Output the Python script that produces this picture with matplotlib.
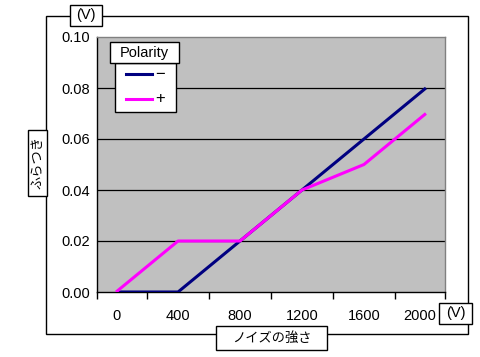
import matplotlib
matplotlib.use('Agg')
import matplotlib.pyplot as plt
from matplotlib.patches import Rectangle
from matplotlib.lines import Line2D
from matplotlib.transforms import ScaledTranslation

plt.rcParams['font.family'] = ['Liberation Sans', 'Noto Sans CJK JP', 'DejaVu Sans']

noise = [0, 400, 800, 1200, 1600, 2000]
minus_vals = [0.0, 0.0, 0.02, 0.04, 0.06, 0.08]
plus_vals = [0.0, 0.02, 0.02, 0.04, 0.05, 0.07]
y_ticks = [0.00, 0.02, 0.04, 0.06, 0.08, 0.10]
x_marks = [-123, 200, 600, 1000, 1400, 1800, 2123]

W, H = 480, 357
fs = 10.5
fig = plt.figure(figsize=(4.8, 3.57), dpi=100)

def box(x0, y0, x1, y1, lw=1.0):
    # pixel coords from top-left
    r = Rectangle((x0 / W, 1 - y1 / H), (x1 - x0) / W, (y1 - y0) / H,
                  transform=fig.transFigure, facecolor='white', edgecolor='black',
                  linewidth=lw, zorder=5)
    fig.add_artist(r)

# chart area frame
fr = Rectangle((46 / W, 1 - 334 / H), (468 - 46) / W, (334 - 16) / H,
               transform=fig.transFigure, facecolor='none', edgecolor='black', linewidth=1.0)
fig.add_artist(fr)

ax = fig.add_axes([97 / W, 1 - 292 / H, (445 - 97) / W, (292 - 37) / H])
ax.set_facecolor('#C0C0C0')
for y in y_ticks[1:-1]:
    ax.axhline(y, color='black', linewidth=0.9, zorder=1)
ax.plot(noise, minus_vals, color='#000080', linewidth=2.2, zorder=3, solid_capstyle='butt')
ax.plot(noise, plus_vals, color='#FF00FF', linewidth=2.2, zorder=3, solid_capstyle='butt')
ax.set_xlim(-123, 2123)
ax.set_ylim(0, 0.10)
ax.set_yticks(y_ticks)
ax.set_yticklabels(['%.2f' % v for v in y_ticks])
ax.set_xticks(noise)
ax.set_xticklabels([str(v) for v in noise])
ax.set_xticks(x_marks, minor=True)
ax.tick_params(axis='y', length=0, pad=5, labelsize=fs)
ax.tick_params(axis='x', which='major', length=0, pad=12, labelsize=fs)
ax.tick_params(axis='x', which='minor', length=5, width=1, color='black')
ax.spines['top'].set_color('#808080')
ax.spines['right'].set_color('#808080')
ax.spines['left'].set_color('black')
ax.spines['bottom'].set_color('black')
for s in ax.spines.values():
    s.set_linewidth(1.0)

# last label sits a bit left so it clears the (V) box
lab = ax.get_xticklabels()[-1]
lab.set_transform(lab.get_transform() + ScaledTranslation(-6 / 100, 0, fig.dpi_scale_trans))

# unit boxes
box(70, 5, 102, 26)
fig.text(86 / W, 1 - 15.5 / H, '(V)', ha='center', va='center', fontsize=fs, zorder=6)
box(439, 303, 472, 324)
fig.text(455.5 / W, 1 - 313.5 / H, '(V)', ha='center', va='center', fontsize=fs, zorder=6)

# axis title boxes
box(28, 130, 47, 196)
fig.text(37.5 / W, 1 - 163 / H, 'ふらつき', ha='center', va='center', rotation=90,
         fontsize=9.5, family=['Noto Sans CJK JP'], zorder=6)
box(216, 326, 327, 350)
fig.text(271.5 / W, 1 - 338 / H, 'ノイズの強さ', ha='center', va='center',
         fontsize=9.5, family=['Noto Sans CJK JP'], zorder=6)

# legend
box(115, 63, 176, 112)
box(110, 42, 179, 63)
fig.text(144.5 / W, 1 - 53 / H, 'Polarity', ha='center', va='center', fontsize=fs, zorder=6)
fig.add_artist(Line2D([126 / W, 152 / W], [1 - 74 / H, 1 - 74 / H], transform=fig.transFigure,
                      color='#000080', linewidth=2.2, zorder=6))
fig.add_artist(Line2D([126 / W, 152 / W], [1 - 99 / H, 1 - 99 / H], transform=fig.transFigure,
                      color='#FF00FF', linewidth=2.2, zorder=6))
fig.text(155 / W, 1 - 74 / H, '−', ha='left', va='center', fontsize=12, zorder=6)
fig.text(155 / W, 1 - 99 / H, '+', ha='left', va='center', fontsize=12, zorder=6)

fig.savefig('out.png', dpi=100)
